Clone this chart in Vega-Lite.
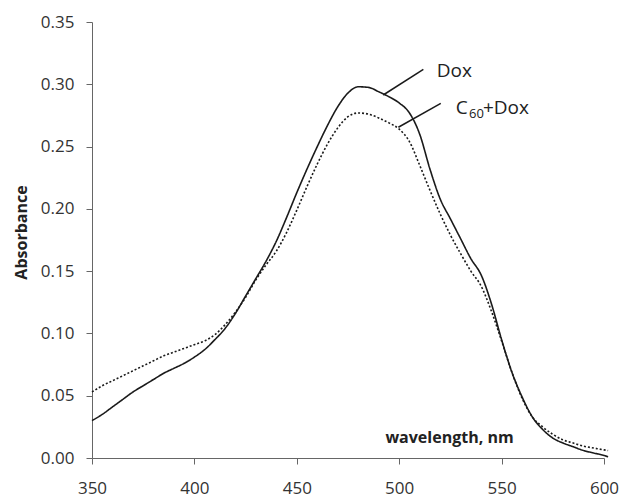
{
  "$schema": "https://vega.github.io/schema/vega-lite/v6.json",
  "width": 512,
  "height": 436,
  "autosize": {"type": "none"},
  "padding": {"left": 92, "top": 22, "right": 18, "bottom": 39},
  "background": "white",
  "config": {"view": {"stroke": null}, "font": "Open Sans"},
  "datasets": {
    "spectra": [
      {"sample": "Dox", "wavelength": 350, "absorbance": 0.030},
      {"sample": "Dox", "wavelength": 355, "absorbance": 0.035},
      {"sample": "Dox", "wavelength": 360, "absorbance": 0.041},
      {"sample": "Dox", "wavelength": 365, "absorbance": 0.047},
      {"sample": "Dox", "wavelength": 370, "absorbance": 0.053},
      {"sample": "Dox", "wavelength": 375, "absorbance": 0.058},
      {"sample": "Dox", "wavelength": 380, "absorbance": 0.063},
      {"sample": "Dox", "wavelength": 385, "absorbance": 0.068},
      {"sample": "Dox", "wavelength": 390, "absorbance": 0.072},
      {"sample": "Dox", "wavelength": 395, "absorbance": 0.076},
      {"sample": "Dox", "wavelength": 400, "absorbance": 0.081},
      {"sample": "Dox", "wavelength": 405, "absorbance": 0.087},
      {"sample": "Dox", "wavelength": 410, "absorbance": 0.095},
      {"sample": "Dox", "wavelength": 415, "absorbance": 0.104},
      {"sample": "Dox", "wavelength": 420, "absorbance": 0.116},
      {"sample": "Dox", "wavelength": 425, "absorbance": 0.130},
      {"sample": "Dox", "wavelength": 430, "absorbance": 0.144},
      {"sample": "Dox", "wavelength": 435, "absorbance": 0.158},
      {"sample": "Dox", "wavelength": 440, "absorbance": 0.174},
      {"sample": "Dox", "wavelength": 445, "absorbance": 0.193},
      {"sample": "Dox", "wavelength": 450, "absorbance": 0.213},
      {"sample": "Dox", "wavelength": 455, "absorbance": 0.232},
      {"sample": "Dox", "wavelength": 460, "absorbance": 0.250},
      {"sample": "Dox", "wavelength": 465, "absorbance": 0.267},
      {"sample": "Dox", "wavelength": 470, "absorbance": 0.282},
      {"sample": "Dox", "wavelength": 475, "absorbance": 0.293},
      {"sample": "Dox", "wavelength": 480, "absorbance": 0.298},
      {"sample": "Dox", "wavelength": 485, "absorbance": 0.2975},
      {"sample": "Dox", "wavelength": 490, "absorbance": 0.294},
      {"sample": "Dox", "wavelength": 495, "absorbance": 0.290},
      {"sample": "Dox", "wavelength": 500, "absorbance": 0.285},
      {"sample": "Dox", "wavelength": 505, "absorbance": 0.277},
      {"sample": "Dox", "wavelength": 510, "absorbance": 0.260},
      {"sample": "Dox", "wavelength": 515, "absorbance": 0.232},
      {"sample": "Dox", "wavelength": 520, "absorbance": 0.208},
      {"sample": "Dox", "wavelength": 525, "absorbance": 0.192},
      {"sample": "Dox", "wavelength": 530, "absorbance": 0.176},
      {"sample": "Dox", "wavelength": 535, "absorbance": 0.160},
      {"sample": "Dox", "wavelength": 540, "absorbance": 0.147},
      {"sample": "Dox", "wavelength": 545, "absorbance": 0.124},
      {"sample": "Dox", "wavelength": 550, "absorbance": 0.095},
      {"sample": "Dox", "wavelength": 555, "absorbance": 0.069},
      {"sample": "Dox", "wavelength": 560, "absorbance": 0.049},
      {"sample": "Dox", "wavelength": 565, "absorbance": 0.033},
      {"sample": "Dox", "wavelength": 570, "absorbance": 0.023},
      {"sample": "Dox", "wavelength": 575, "absorbance": 0.016},
      {"sample": "Dox", "wavelength": 580, "absorbance": 0.012},
      {"sample": "Dox", "wavelength": 585, "absorbance": 0.009},
      {"sample": "Dox", "wavelength": 590, "absorbance": 0.006},
      {"sample": "Dox", "wavelength": 595, "absorbance": 0.004},
      {"sample": "Dox", "wavelength": 600, "absorbance": 0.002},
      {"sample": "Dox", "wavelength": 602, "absorbance": 0.001},
      {"sample": "C60+Dox", "wavelength": 350, "absorbance": 0.053},
      {"sample": "C60+Dox", "wavelength": 355, "absorbance": 0.058},
      {"sample": "C60+Dox", "wavelength": 360, "absorbance": 0.062},
      {"sample": "C60+Dox", "wavelength": 365, "absorbance": 0.066},
      {"sample": "C60+Dox", "wavelength": 370, "absorbance": 0.070},
      {"sample": "C60+Dox", "wavelength": 375, "absorbance": 0.074},
      {"sample": "C60+Dox", "wavelength": 380, "absorbance": 0.078},
      {"sample": "C60+Dox", "wavelength": 385, "absorbance": 0.082},
      {"sample": "C60+Dox", "wavelength": 390, "absorbance": 0.085},
      {"sample": "C60+Dox", "wavelength": 395, "absorbance": 0.088},
      {"sample": "C60+Dox", "wavelength": 400, "absorbance": 0.091},
      {"sample": "C60+Dox", "wavelength": 405, "absorbance": 0.094},
      {"sample": "C60+Dox", "wavelength": 410, "absorbance": 0.099},
      {"sample": "C60+Dox", "wavelength": 415, "absorbance": 0.107},
      {"sample": "C60+Dox", "wavelength": 420, "absorbance": 0.117},
      {"sample": "C60+Dox", "wavelength": 425, "absorbance": 0.129},
      {"sample": "C60+Dox", "wavelength": 430, "absorbance": 0.143},
      {"sample": "C60+Dox", "wavelength": 435, "absorbance": 0.155},
      {"sample": "C60+Dox", "wavelength": 440, "absorbance": 0.166},
      {"sample": "C60+Dox", "wavelength": 445, "absorbance": 0.181},
      {"sample": "C60+Dox", "wavelength": 450, "absorbance": 0.199},
      {"sample": "C60+Dox", "wavelength": 455, "absorbance": 0.218},
      {"sample": "C60+Dox", "wavelength": 460, "absorbance": 0.236},
      {"sample": "C60+Dox", "wavelength": 465, "absorbance": 0.252},
      {"sample": "C60+Dox", "wavelength": 470, "absorbance": 0.265},
      {"sample": "C60+Dox", "wavelength": 475, "absorbance": 0.274},
      {"sample": "C60+Dox", "wavelength": 480, "absorbance": 0.277},
      {"sample": "C60+Dox", "wavelength": 485, "absorbance": 0.276},
      {"sample": "C60+Dox", "wavelength": 490, "absorbance": 0.273},
      {"sample": "C60+Dox", "wavelength": 495, "absorbance": 0.269},
      {"sample": "C60+Dox", "wavelength": 500, "absorbance": 0.264},
      {"sample": "C60+Dox", "wavelength": 505, "absorbance": 0.254},
      {"sample": "C60+Dox", "wavelength": 510, "absorbance": 0.235},
      {"sample": "C60+Dox", "wavelength": 515, "absorbance": 0.215},
      {"sample": "C60+Dox", "wavelength": 520, "absorbance": 0.196},
      {"sample": "C60+Dox", "wavelength": 525, "absorbance": 0.179},
      {"sample": "C60+Dox", "wavelength": 530, "absorbance": 0.164},
      {"sample": "C60+Dox", "wavelength": 535, "absorbance": 0.150},
      {"sample": "C60+Dox", "wavelength": 540, "absorbance": 0.138},
      {"sample": "C60+Dox", "wavelength": 545, "absorbance": 0.118},
      {"sample": "C60+Dox", "wavelength": 550, "absorbance": 0.094},
      {"sample": "C60+Dox", "wavelength": 555, "absorbance": 0.069},
      {"sample": "C60+Dox", "wavelength": 560, "absorbance": 0.048},
      {"sample": "C60+Dox", "wavelength": 565, "absorbance": 0.033},
      {"sample": "C60+Dox", "wavelength": 570, "absorbance": 0.025},
      {"sample": "C60+Dox", "wavelength": 575, "absorbance": 0.019},
      {"sample": "C60+Dox", "wavelength": 580, "absorbance": 0.0145},
      {"sample": "C60+Dox", "wavelength": 585, "absorbance": 0.012},
      {"sample": "C60+Dox", "wavelength": 590, "absorbance": 0.0095},
      {"sample": "C60+Dox", "wavelength": 595, "absorbance": 0.008},
      {"sample": "C60+Dox", "wavelength": 600, "absorbance": 0.0065},
      {"sample": "C60+Dox", "wavelength": 602, "absorbance": 0.006}
    ],
    "leaders": [
      {"wavelength": 492.2, "absorbance": 0.2914, "wavelength2": 511.8, "absorbance2": 0.312},
      {"wavelength": 499.6, "absorbance": 0.2655, "wavelength2": 520.3, "absorbance2": 0.2847}
    ],
    "labels": [
      {"wavelength": 518.3, "absorbance": 0.3061, "text": "Dox", "size": "big"},
      {"wavelength": 527.6, "absorbance": 0.2761, "text": "C", "size": "big"},
      {"wavelength": 534.1, "absorbance": 0.2732, "text": "60", "size": "small"},
      {"wavelength": 540.9, "absorbance": 0.2761, "text": "+Dox", "size": "big"}
    ]
  },
  "layer": [
    {
      "data": {"name": "spectra"},
      "mark": {"type": "line", "strokeWidth": 1.6, "color": "#1a1a1a", "interpolate": "monotone"},
      "encoding": {
        "x": {
          "field": "wavelength", "type": "quantitative",
          "scale": {"domain": [350, 600], "nice": false, "zero": false},
          "axis": {
            "title": "wavelength, nm", "values": [350, 400, 450, 500, 550, 600],
            "grid": false, "domainColor": "#666", "tickColor": "#666", "tickSize": 6,
            "labelFontSize": 17, "labelColor": "#333", "labelPadding": 16, "labelFont": "Open Sans",
            "labelFlush": false, "labelOverlap": false,
            "titleFontSize": 16, "titleFontWeight": "bold", "titleColor": "#222", "titleFont": "Open Sans",
            "titleX": 357, "titleY": -21, "titleAlign": "center", "titleBaseline": "middle", "titleAnchor": null
          }
        },
        "y": {
          "field": "absorbance", "type": "quantitative",
          "scale": {"domain": [0, 0.35], "nice": false},
          "axis": {
            "title": "Absorbance", "values": [0, 0.05, 0.1, 0.15, 0.2, 0.25, 0.3, 0.35], "format": ".2f",
            "grid": false, "domainColor": "#666", "tickColor": "#666", "tickSize": 6,
            "labelFontSize": 17, "labelColor": "#333", "labelPadding": 12, "labelFont": "Open Sans",
            "labelFlush": false, "labelOverlap": false,
            "titleFontSize": 16, "titleFontWeight": "bold", "titleColor": "#222", "titleFont": "Open Sans",
            "titleX": -71, "titleY": 210, "titleAngle": -90, "titleAlign": "center", "titleBaseline": "middle"
          }
        },
        "strokeDash": {
          "field": "sample", "type": "nominal",
          "scale": {"domain": ["Dox", "C60+Dox"], "range": [[1, 0], [2, 2]]},
          "legend": null
        }
      }
    },
    {
      "data": {"name": "leaders"},
      "mark": {"type": "rule", "strokeWidth": 1.5, "color": "#1a1a1a"},
      "encoding": {
        "x": {"field": "wavelength", "type": "quantitative"},
        "y": {"field": "absorbance", "type": "quantitative"},
        "x2": {"field": "wavelength2"},
        "y2": {"field": "absorbance2"}
      }
    },
    {
      "data": {"name": "labels"},
      "transform": [{"filter": "datum.size == 'big'"}],
      "mark": {"type": "text", "align": "left", "baseline": "alphabetic", "fontSize": 19, "font": "Open Sans", "color": "#222"},
      "encoding": {
        "x": {"field": "wavelength", "type": "quantitative"},
        "y": {"field": "absorbance", "type": "quantitative"},
        "text": {"field": "text"}
      }
    },
    {
      "data": {"name": "labels"},
      "transform": [{"filter": "datum.size == 'small'"}],
      "mark": {"type": "text", "align": "left", "baseline": "alphabetic", "fontSize": 13, "font": "Open Sans", "color": "#222"},
      "encoding": {
        "x": {"field": "wavelength", "type": "quantitative"},
        "y": {"field": "absorbance", "type": "quantitative"},
        "text": {"field": "text"}
      }
    }
  ]
}
